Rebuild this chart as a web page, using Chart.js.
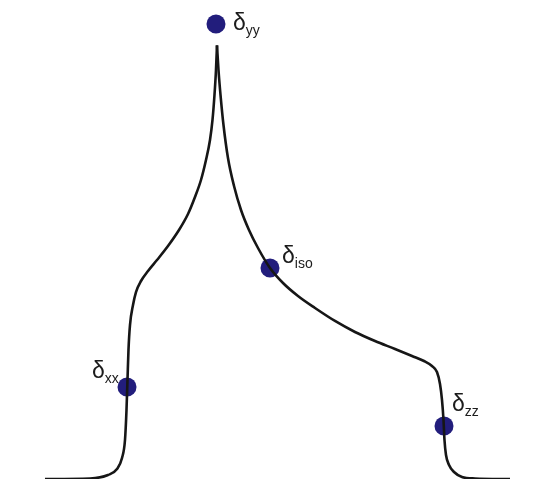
<!DOCTYPE html>
<html>
<head>
<meta charset="utf-8">
<title>Powder pattern – chemical shift tensor</title>
<script src="https://cdn.jsdelivr.net/npm/chart.js@4/dist/chart.umd.min.js"></script>
<style>
  html, body { margin: 0; padding: 0; background: #ffffff; }
  #wrap { width: 547px; height: 481px; }
</style>
</head>
<body>
<div id="wrap"><canvas id="c" width="547" height="481"></canvas></div>
<script>
// Static powder lineshape (shift axis in arbitrary units, intensity relative to the singularity = 100)
const shiftLow  = [1.48, 11.02, 14.83, 16.74, 17.80, 18.43, 18.75, 18.96, 19.17, 19.49, 20.13, 20.76, 21.82,
                   23.31, 25.21, 27.54, 29.87, 31.78, 33.26, 34.53, 35.59, 36.44, 36.97, 37.39, 37.71, 37.92];
const intensLow = [0, 0.12, 0.92, 2.31, 4.84, 8.99, 15.91, 22.83, 29.75, 35.51, 40.13, 43.12, 45.66,
                   47.97, 50.50, 53.73, 57.42, 61.11, 65.03, 68.95, 73.56, 78.18, 82.79, 88.55, 94.32, 100];
const shiftHigh  = [37.92, 38.24, 38.67, 39.30, 40.25, 41.53, 43.01, 44.70, 46.61, 49.15, 51.91, 55.08,
                    58.69, 62.92, 67.16, 71.40, 75.64, 79.24, 81.78, 83.47, 84.53, 85.17, 85.59, 85.91,
                    86.12, 86.44, 87.08, 88.14, 89.83, 92.58, 100];
const intensHigh = [100, 94.32, 88.55, 81.63, 74.02, 67.57, 62.03, 57.42, 53.27, 48.66, 45.20, 42.20,
                    39.43, 36.44, 33.90, 31.82, 29.98, 28.37, 27.21, 26.06, 24.67, 21.91, 18.22, 13.61,
                    8.99, 5.53, 3.23, 1.61, 0.46, 0.12, 0];

// Principal components and isotropic value
const tensorNames  = ['yy', 'iso', 'xx', 'zz'];
const tensorShift  = [37.71, 49.15, 18.86, 86.02];
const tensorHeight = [104.93, 48.66, 21.22, 12.22];

// Label placement relative to each marker (pixels)
const labelOffset = { yy: [17, 6], iso: [12, -5], xx: [-35, -9], zz: [8, -15] };

const toPoints = (xs, ys) => xs.map((x, i) => ({ x: x, y: ys[i] }));

const deltaLabels = {
  id: 'deltaLabels',
  afterDatasetsDraw(chart) {
    const ctx = chart.ctx;
    const meta = chart.getDatasetMeta(2);
    ctx.save();
    ctx.fillStyle = '#1c1c1c';
    ctx.textBaseline = 'alphabetic';
    ctx.textAlign = 'left';
    meta.data.forEach((pt, i) => {
      const name = tensorNames[i];
      const off = labelOffset[name];
      const x = pt.x + off[0];
      const y = pt.y + off[1];
      ctx.font = '23px "Liberation Sans", Arial, sans-serif';
      ctx.fillText('\u03B4', x, y);
      const w = ctx.measureText('\u03B4').width;
      ctx.font = '14px "Liberation Sans", Arial, sans-serif';
      ctx.fillText(name, x + w, y + 5);
    });
    ctx.restore();
  }
};

const lineStyle = {
  borderColor: '#161616',
  borderWidth: 2.6,
  pointRadius: 0,
  cubicInterpolationMode: 'monotone',
  fill: false
};

new Chart(document.getElementById('c'), {
  type: 'line',
  data: {
    datasets: [
      Object.assign({ data: toPoints(shiftLow, intensLow) }, lineStyle),
      Object.assign({ data: toPoints(shiftHigh, intensHigh) }, lineStyle),
      {
        data: toPoints(tensorShift, tensorHeight),
        showLine: false,
        pointRadius: 9.5,
        pointBackgroundColor: '#221d7c',
        pointBorderColor: '#221d7c',
        pointBorderWidth: 0,
        clip: false
      }
    ]
  },
  options: {
    responsive: false,
    animation: false,
    events: [],
    layout: { autoPadding: false, padding: { left: 38, right: 37, top: 2, bottom: 2 } },
    scales: {
      x: { type: 'linear', min: 0, max: 100, display: false },
      y: { type: 'linear', min: 0, max: 110, display: false }
    },
    plugins: {
      legend: { display: false },
      tooltip: { enabled: false }
    }
  },
  plugins: [deltaLabels]
});
</script>
</body>
</html>
